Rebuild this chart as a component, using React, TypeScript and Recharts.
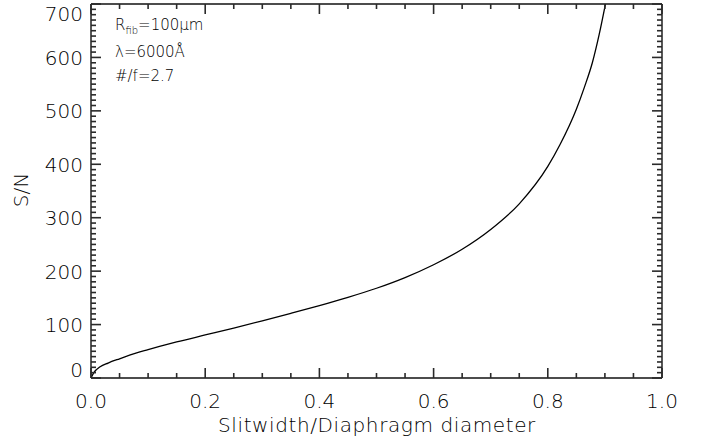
import React from 'react';
import { LineChart, Line, XAxis, YAxis, Customized } from 'recharts';

// Slit width / diaphragm diameter (x) and resulting S/N (y)
const slitRatio = [0, 0.005, 0.016, 0.03, 0.05, 0.08, 0.1, 0.12, 0.15, 0.2, 0.25, 0.3, 0.35, 0.4, 0.45, 0.5, 0.55, 0.6, 0.65, 0.7, 0.75, 0.8, 0.821, 0.85, 0.864, 0.878, 0.89, 0.901];
const signalToNoise = [0, 10, 21, 28, 36, 47, 53, 59, 67.5, 80.5, 93.5, 107, 121, 135.5, 151, 168, 188, 212, 241, 278, 326, 396, 436, 503, 544, 590, 643, 700];

const xMajorTicks = [0, 0.2, 0.4, 0.6, 0.8, 1.0];
const yMajorTicks = [0, 100, 200, 300, 400, 500, 600, 700];
const xMinorStep = 0.05;
const yMinorStep = 10;

const xLabel = 'Slitwidth/Diaphragm diameter';
const yLabel = 'S/N';

const chartData = slitRatio.map((r, i) => ({ ratio: r, sn: signalToNoise[i] }));

const xAllTicks: number[] = [];
for (let i = 0; i <= Math.round(1 / xMinorStep); i++) xAllTicks.push(+(i * xMinorStep).toFixed(3));
const yAllTicks: number[] = [];
for (let i = 0; i <= Math.round(700 / yMinorStep); i++) yAllTicks.push(i * yMinorStep);

const isXMajor = (v: number) => xMajorTicks.some((m) => Math.abs(m - v) < 1e-6);
const isYMajor = (v: number) => yMajorTicks.some((m) => Math.abs(m - v) < 1e-6);

const FONT = '"DejaVu Sans", sans-serif';
const INK = '#000000';
const TICK = '#2a2a2a';
const MAJOR = 10;
const MINOR = 5;
const TICK_W = 1.6;

const BottomTick = (props: any) => {
  const { x, y, payload } = props;
  const v = payload.value;
  const major = isXMajor(v);
  return (
    <g>
      <path d={`M${x},${y}V${y - (major ? MAJOR : MINOR)}`} stroke={TICK} strokeWidth={TICK_W} fill="none" />
      {major && (
        <text x={x} y={y + 30} textAnchor="middle" fontFamily={FONT} fontWeight={200} fontSize={20} fill={INK}>
          {v.toFixed(1)}
        </text>
      )}
    </g>
  );
};

const TopTick = (props: any) => {
  const { x, y, payload } = props;
  const major = isXMajor(payload.value);
  return <path d={`M${x},${y}V${y + (major ? MAJOR : MINOR)}`} stroke={TICK} strokeWidth={TICK_W} fill="none" />;
};

const LeftTick = (props: any) => {
  const { x, y, payload } = props;
  const v = payload.value;
  const major = isYMajor(v);
  let base = y + 7.5;
  if (v === 0) base = y - 1;
  if (v === 700) base = y + 17;
  return (
    <g>
      <path d={`M${x},${y}H${x + (major ? MAJOR : MINOR)}`} stroke={TICK} strokeWidth={TICK_W} fill="none" />
      {major && (
        <text x={x - 8} y={base} textAnchor="end" fontFamily={FONT} fontWeight={200} fontSize={20} fill={INK}>
          {v}
        </text>
      )}
    </g>
  );
};

const RightTick = (props: any) => {
  const { x, y, payload } = props;
  const major = isYMajor(payload.value);
  return <path d={`M${x},${y}H${x - (major ? MAJOR : MINOR)}`} stroke={TICK} strokeWidth={TICK_W} fill="none" />;
};

const Annotations = () => (
  <g fontFamily={FONT} fontWeight={200} fill={INK}>
    <text x={115} y={30} fontSize={15}>
      R<tspan fontSize={10} dy={4}>fib</tspan>
      <tspan dy={-4}>=100μm</tspan>
    </text>
    <text x={115} y={57} fontSize={15}>λ=6000Å</text>
    <text x={115} y={81} fontSize={15}>#/f=2.7</text>
    <text x={377} y={432} fontSize={20} textAnchor="middle" letterSpacing={0.6}>{xLabel}</text>
    <text x={28} y={190} fontSize={20} textAnchor="middle" transform="rotate(-90 28 190)">
      {yLabel}
    </text>
  </g>
);

export default function App() {
  return (
    <div style={{ position: 'absolute', left: 0, top: 0 }}>
      <LineChart width={707} height={446} data={chartData} margin={{ top: 3, right: 44, left: 0, bottom: 0 }}>
        <XAxis
          dataKey="ratio"
          type="number"
          domain={[0, 1]}
          ticks={xAllTicks}
          interval={0}
          height={68}
          tickSize={0}
          tickMargin={0}
          tickLine={false}
          tick={<BottomTick />}
          axisLine={{ stroke: '#111', strokeWidth: 1.4 }}
          stroke="#111"
          allowDataOverflow
        />
        <XAxis
          xAxisId="top"
          orientation="top"
          dataKey="ratio"
          type="number"
          domain={[0, 1]}
          ticks={xAllTicks}
          interval={0}
          height={1}
          tickSize={0}
          tickMargin={0}
          tickLine={false}
          tick={<TopTick />}
          axisLine={{ stroke: '#111', strokeWidth: 1.4 }}
          stroke="#111"
          allowDataOverflow
        />
        <YAxis
          type="number"
          domain={[0, 700]}
          ticks={yAllTicks}
          interval={0}
          width={91}
          tickSize={0}
          tickMargin={0}
          tickLine={false}
          tick={<LeftTick />}
          axisLine={{ stroke: '#111', strokeWidth: 1.4 }}
          stroke="#111"
          allowDataOverflow
        />
        <YAxis
          yAxisId="right"
          orientation="right"
          type="number"
          domain={[0, 700]}
          ticks={yAllTicks}
          interval={0}
          width={1}
          tickSize={0}
          tickMargin={0}
          tickLine={false}
          tick={<RightTick />}
          axisLine={{ stroke: '#111', strokeWidth: 1.4 }}
          stroke="#111"
          allowDataOverflow
        />
        <Line
          type="monotone"
          dataKey="sn"
          stroke={INK}
          strokeWidth={1.3}
          dot={false}
          activeDot={false}
          isAnimationActive={false}
        />
        <Line
          xAxisId="top"
          yAxisId="right"
          type="monotone"
          dataKey="sn"
          stroke="none"
          dot={false}
          activeDot={false}
          isAnimationActive={false}
        />
        <Customized component={Annotations} />
      </LineChart>
    </div>
  );
}
